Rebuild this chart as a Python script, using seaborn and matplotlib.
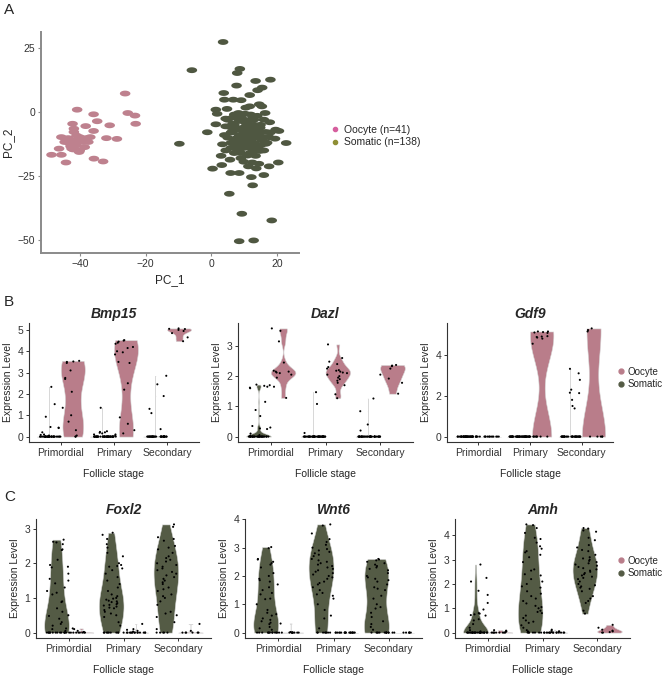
import numpy as np
import pandas as pd
import matplotlib
matplotlib.use('Agg')
import matplotlib.pyplot as plt
from matplotlib.path import Path
from matplotlib.lines import Line2D
import seaborn as sns

sns.set_theme(style='white')
plt.rcParams['font.family'] = ['Liberation Sans', 'DejaVu Sans']

# ---------------- data ----------------
# panel A, PCA coordinates
oocyte_pc1 = [-26.2, -40.8, -35.8, -25.4, -23.2, -34.7, -42.2, -38.2, -30.9, -23.0,
              -41.8, -35.8, -41.8, -31.9, -28.7, -45.6, -43.5, -40.0, -36.8, -39.2,
              -41.2, -44.6, -43.0, -37.4, -41.0, -38.5, -46.3, -42.5, -40.0, -42.0,
              -48.6, -45.6, -40.2, -35.7, -32.9, -44.2, -42.8, -38.9, -38.0, -44.0, -41.0]
oocyte_pc2 = [7.2, 0.9, -0.9, -0.4, -1.4, -3.6, -4.6, -5.5, -5.2, -4.6,
              -6.5, -7.4, -7.8, -10.2, -10.5, -9.8, -10.2, -9.8, -9.8, -11.1,
              -11.1, -11.7, -12.4, -11.7, -13.0, -13.7, -14.3, -14.3, -15.0, -14.6,
              -16.7, -16.7, -15.6, -18.2, -19.3, -19.7, -13.4, -11.7, -10.2, -11.0, -9.2]
somatic_pc1 = [3.6, -5.9, 8.7, 7.9, 13.5, 18.0, 7.7, 15.5, 14.1, 3.8,
               11.7, 6.7, 9.1, 4.0, 14.6, 11.7, 15.4, 10.5, 1.4, 4.8,
               1.8, 16.4, 8.3, 10.3, 6.5, 4.4, 12.5, 17.8, 8.5, 1.4,
               6.5, 10.5, 4.4, 12.5, 14.9, 19.6, 8.5, 10.5, -1.2, 6.3,
               12.5, 16.6, 20.6, 8.5, 10.5, 14.5, 17.6, 7.7, 12.5, 15.5,
               19.4, -9.7, 3.4, 22.8, 10.5, 16.6, 7.1, 11.5, 13.7, 4.4,
               8.5, 12.0, 14.7, 3.0, 11.1, 13.5, 5.7, 9.9, 12.5, 14.5,
               20.4, 3.2, 11.3, 17.6, 13.7, 0.4, 5.9, 8.5, 16.0, 12.2,
               12.6, 5.5, 9.3, 18.4, 8.5, 12.9,
               5, 7, 9, 11, 13, 15, 6, 8, 10, 12, 14, 16, 5, 7, 9, 11, 13, 15, 17, 6,
               8, 10, 12, 14, 16, 7, 9, 11, 13, 10, 12, 14, 8, 6, 4, 18, 9, 11, 13, 15,
               10, 12, 8, 10, 12, 7, 14, 16, 9, 11, 13, 6]
somatic_pc2 = [27.3, 16.3, 16.8, 15.2, 12.1, 12.6, 10.3, 9.5, 8.5, 7.4,
               6.6, 4.8, 4.6, 4.8, 3.0, 2.2, 2.2, 1.7, 0.9, 1.2,
               -0.7, -0.4, -0.4, -0.7, -2.2, -2.6, -2.6, -4.0, -3.5, -4.8,
               -4.6, -4.3, -5.6, -5.6, -6.1, -6.9, -6.4, -6.6, -7.9, -7.8,
               -7.8, -7.8, -7.4, -9.1, -9.1, -9.2, -9.8, -10.3, -10.3, -11.1,
               -10.4, -12.4, -12.6, -12.1, -11.5, -12.4, -13.7, -13.7, -13.4, -15.0,
               -15.2, -15.8, -15.2, -17.1, -16.5, -17.1, -18.6, -19.4, -19.7, -20.2,
               -19.7, -20.7, -21.2, -21.2, -22.0, -22.1, -23.8, -23.8, -24.6, -25.4,
               -28.6, -31.9, -39.7, -42.3, -50.4, -50.1,
               -3, -5, -2, -4, -3, -5, -8, -7, -8, -9, -7, -10, -10, -11, -12, -11, -12, -13, -12, -14,
               -13, -14, -13, -14, -15, -16, -16, -17, -15, -6, -6, -10, -10, -6, -9, -8, -9.5, -9.5, -8.5, -8,
               -11, -11.5, -15, -3, -1, -1, -1.5, -3, -18, -13, -5, -12]

# panels B and C, expression level per follicle stage and cell type
stages = ['Primordial', 'Primary', 'Secondary']
cell_types = ['Somatic', 'Oocyte']

expr = {
    'Bmp15': {
        ('Primordial', 'Somatic'): [2.33, 1.52, 0.93, 0.45, 0.42, 0.4, 0.2, 0.1, 0.08, 0.05] + [0.0] * 35,
        ('Primordial', 'Oocyte'): [3.55, 3.52, 3.5, 3.45, 3.1, 2.75, 2.7, 2.1, 1.35, 1.0, 0.7, 0.3, 0.05, 0.0, 0.0],
        ('Primary', 'Somatic'): [1.35, 0.25, 0.22, 0.2, 0.18, 0.15, 0.1] + [0.0] * 43,
        ('Primary', 'Oocyte'): [4.52, 4.5, 4.45, 4.4, 4.35, 4.2, 4.15, 4.0, 3.95, 3.85, 3.5,
                                3.45, 2.5, 2.2, 0.9, 0.6, 0.3, 0.15, 0.1, 0.05, 0.0],
        ('Secondary', 'Somatic'): [2.85, 2.45, 1.9, 1.3, 1.1, 0.35] + [0.0] * 37,
        ('Secondary', 'Oocyte'): [5.07, 5.05, 5.04, 5.0, 4.95, 4.85, 4.65, 4.47],
    },
    'Dazl': {
        ('Primordial', 'Somatic'): [1.72, 1.7, 1.68, 1.65, 1.62, 1.6, 1.15, 0.88, 0.68, 0.35,
                                    0.3, 0.27, 0.25, 0.1, 0.05, 0.03] + [0.0] * 29,
        ('Primordial', 'Oocyte'): [3.58, 3.5, 3.15, 2.45, 2.18, 2.15, 2.15, 2.12, 2.1, 2.05, 1.95, 1.65, 1.28],
        ('Primary', 'Somatic'): [1.47, 1.08, 0.12] + [0.0] * 47,
        ('Primary', 'Oocyte'): [3.05, 2.6, 2.48, 2.4, 2.3, 2.25, 2.2, 2.18, 2.15, 2.12,
                                2.1, 2.05, 2.0, 1.95, 1.9, 1.85, 1.78, 1.7, 1.4, 1.27],
        ('Secondary', 'Somatic'): [1.26, 0.84, 0.4, 0.2] + [0.0] * 39,
        ('Secondary', 'Oocyte'): [2.37, 2.35, 2.33, 2.25, 2.05, 1.92, 1.78, 1.42],
    },
    'Gdf9': {
        ('Primordial', 'Somatic'): [0.0] * 45,
        ('Primordial', 'Oocyte'): [0.0] * 13,
        ('Primary', 'Somatic'): [0.0] * 50,
        ('Primary', 'Oocyte'): [5.15, 5.15, 5.12, 5.1, 5.08, 4.92, 4.9, 4.88, 4.85, 4.8, 4.55] + [0.0] * 9,
        ('Secondary', 'Somatic'): [3.32, 3.1, 2.78, 2.3, 2.15, 2.13, 1.8, 1.5, 1.38] + [0.0] * 34,
        ('Secondary', 'Oocyte'): [5.3, 5.22, 5.15] + [0.0] * 5,
    },
    'Foxl2': {
        ('Primordial', 'Somatic'): [2.68, 2.62, 2.6, 2.55, 2.4, 2.38, 2.1, 1.95, 1.9, 1.88, 1.7,
                                    1.55, 1.5, 1.42, 1.3, 1.2, 1.15, 1.1, 0.9, 0.88, 0.7, 0.6,
                                    0.5, 0.48, 0.4, 0.3, 0.25, 0.2, 0.12, 0.1, 0.05] + [0.0] * 14,
        ('Primordial', 'Oocyte'): [0.12, 0.1, 0.05, 0.02] + [0.0] * 9,
        ('Primary', 'Somatic'): [2.88, 2.82, 2.7, 2.55, 2.45, 2.3, 2.2, 2.0, 1.95, 1.92, 1.9, 1.85,
                                 1.8, 1.7, 1.6, 1.5, 1.4, 1.3, 1.2, 1.1, 1.05, 1.0, 0.98, 0.95,
                                 0.92, 0.9, 0.88, 0.85, 0.82, 0.8, 0.78, 0.75, 0.72, 0.7, 0.65,
                                 0.6, 0.55, 0.5, 0.45, 0.3, 0.2] + [0.0] * 9,
        ('Primary', 'Oocyte'): [0.25, 0.1, 0.08, 0.05, 0.03] + [0.0] * 15,
        ('Secondary', 'Somatic'): [3.12, 3.05, 2.75, 2.7, 2.65, 2.5, 2.45, 2.4, 2.3, 2.2, 2.15, 2.1,
                                   2.05, 2.0, 1.95, 1.9, 1.85, 1.8, 1.75, 1.7, 1.65, 1.6, 1.55, 1.5,
                                   1.45, 1.4, 1.3, 1.25, 1.2, 1.1, 1.05, 1.0, 0.9, 0.8, 0.6, 0.55,
                                   0.5, 0.45, 0.3, 0.1] + [0.0] * 5,
        ('Secondary', 'Oocyte'): [0.25, 0.05] + [0.0] * 6,
    },
    'Wnt6': {
        ('Primordial', 'Somatic'): [3.02, 2.98, 2.6, 2.58, 2.5, 2.45, 2.4, 2.3, 2.1, 2.0, 1.9, 1.85,
                                    1.8, 1.7, 1.6, 1.5, 1.4, 1.35, 1.2, 1.18, 1.0, 0.8, 0.7, 0.65,
                                    0.6, 0.5, 0.45, 0.4, 0.35, 0.3, 0.2, 0.15, 0.1] + [0.0] * 12,
        ('Primordial', 'Oocyte'): [0.32, 0.02] + [0.0] * 11,
        ('Primary', 'Somatic'): [3.82, 3.78, 3.5, 3.3, 3.2, 3.1, 3.0, 2.95, 2.9, 2.85, 2.8, 2.75,
                                 2.7, 2.6, 2.55, 2.5, 2.45, 2.4, 2.35, 2.3, 2.25, 2.2, 2.15, 2.1,
                                 2.05, 2.0, 1.95, 1.9, 1.8, 1.75, 1.7, 1.6, 1.5, 1.4, 1.35, 1.3,
                                 1.2, 1.0, 0.8, 0.6, 0.5, 0.15] + [0.0] * 8,
        ('Primary', 'Oocyte'): [0.0] * 20,
        ('Secondary', 'Somatic'): [2.6, 2.58, 2.55, 2.5, 2.45, 2.4, 2.35, 2.3, 2.25, 2.2, 2.1, 2.0,
                                   1.95, 1.9, 1.85, 1.8, 1.7, 1.6, 1.55, 1.5, 1.3, 1.2, 1.0, 0.9,
                                   0.85, 0.7, 0.55, 0.4, 0.3, 0.2, 0.1] + [0.0] * 12,
        ('Secondary', 'Oocyte'): [0.0] * 8,
    },
    'Amh': {
        ('Primordial', 'Somatic'): [2.8, 2.25, 2.1, 1.72, 1.55, 1.22, 0.95, 0.8, 0.78, 0.75, 0.72,
                                    0.7, 0.55, 0.5, 0.35, 0.2, 0.1, 0.05] + [0.0] * 27,
        ('Primordial', 'Oocyte'): [0.1, 0.08, 0.05, 0.03] + [0.0] * 9,
        ('Primary', 'Somatic'): [4.45, 4.42, 4.3, 4.1, 3.9, 3.85, 3.7, 3.55, 3.45, 3.35, 3.3, 3.2,
                                 3.1, 2.9, 2.6, 2.55, 2.4, 2.35, 2.2, 2.1, 2.0, 1.9, 1.85, 1.7,
                                 1.6, 1.5, 1.4, 1.3, 1.2, 1.1, 1.05, 1.0, 0.9, 0.85, 0.8, 0.7,
                                 0.6, 0.5, 0.45, 0.4, 0.3, 0.2, 0.1, 0.05] + [0.0] * 7,
        ('Primary', 'Oocyte'): [0.12, 0.08, 0.05, 0.04, 0.02] + [0.0] * 15,
        ('Secondary', 'Somatic'): [4.3, 4.28, 4.2, 4.15, 3.9, 3.8, 3.6, 3.5, 3.4, 3.35, 3.2, 3.1,
                                   3.05, 3.0, 2.95, 2.9, 2.85, 2.8, 2.75, 2.7, 2.65, 2.6, 2.55, 2.5,
                                   2.45, 2.4, 2.35, 2.3, 2.25, 2.2, 2.1, 2.0, 1.95, 1.9, 1.85, 1.8,
                                   1.7, 1.5, 1.4, 1.3, 1.22, 0.9, 0.78],
        ('Secondary', 'Oocyte'): [0.32, 0.2, 0.12, 0.08, 0.05, 0.02, 0.0, 0.0],
    },
}
gene_yticks = {'Bmp15': [0, 1, 2, 3, 4, 5], 'Dazl': [0, 1, 2, 3], 'Gdf9': [0, 2, 4],
               'Foxl2': [0, 1, 2, 3], 'Wnt6': [0, 1, 2, 3, 4], 'Amh': [0, 1, 2, 3, 4]}

pca_colors = {'Oocyte': '#be818e', 'Somatic': '#4f5741'}
pca_legend_colors = {'Oocyte': '#d65f9e', 'Somatic': '#8f8f35'}
vln_colors = {'Oocyte': '#b97d8a', 'Somatic': '#545b45'}

rows = []
for gene, groups in expr.items():
    for (stage, cell), vals in groups.items():
        for v in vals:
            rows.append((gene, stage, cell, v))
expr_df = pd.DataFrame(rows, columns=['gene', 'stage', 'cell', 'value'])

pca_df = pd.concat([
    pd.DataFrame({'PC_1': oocyte_pc1, 'PC_2': oocyte_pc2, 'cell': 'Oocyte'}),
    pd.DataFrame({'PC_1': somatic_pc1, 'PC_2': somatic_pc2, 'cell': 'Somatic'}),
])


def nrd0(kde):
    # R's default bandwidth (bw.nrd0), as used by ggplot's geom_violin
    x = kde.dataset[0]
    sd = x.std(ddof=1)
    if sd == 0:
        return 1.0
    q75, q25 = np.percentile(x, [75, 25])
    lo = min(sd, (q75 - q25) / 1.349)
    if lo == 0:
        # tied zeros: Seurat's tiny noise leaves an almost-zero IQR
        lo = 1e-4 * sd
    return 0.9 * lo * len(x) ** -0.2 / sd


# ---------------- figure ----------------
W, H = 667, 677
fig = plt.figure(figsize=(W / 100, H / 100), dpi=100)


def px_axes(x0, x1, y0, y1):
    return fig.add_axes([x0 / W, 1 - y1 / H, (x1 - x0) / W, (y1 - y0) / H])


txt_col = '#333333'

# panel A
ax = px_axes(41, 299, 32, 253)
t = np.linspace(0, 2 * np.pi, 40)
ellipse = Path(np.column_stack([np.cos(t), 0.55 * np.sin(t)]), closed=True)
sns.scatterplot(data=pca_df, x='PC_1', y='PC_2', hue='cell', palette=pca_colors,
                marker=ellipse, s=58, linewidth=0, legend=False, ax=ax)
ax.set_xlim(-51.8, 26.7)
ax.set_ylim(-55, 31.2)
ax.set_xticks([-40, -20, 0, 20])
ax.set_yticks([25, 0, -25, -50])
sns.despine(ax=ax)
for s in ['left', 'bottom']:
    ax.spines[s].set_color('#8a8a8a')
    ax.spines[s].set_linewidth(1.4)
ax.tick_params(axis='both', length=2.5, width=0.8, color='#8a8a8a', pad=1.5,
               labelsize=7.5, labelcolor=txt_col, bottom=True, left=True)
ax.set_xlabel('PC_1', fontsize=8.5, labelpad=4)
ax.set_ylabel('PC_2', fontsize=8.5, labelpad=3)
handles = [Line2D([], [], marker='o', ls='', color=pca_legend_colors[c], markersize=3) for c in ['Oocyte', 'Somatic']]
fig.legend(handles, ['Oocyte (n=41)', 'Somatic (n=138)'], loc='center left',
           bbox_to_anchor=(330 / W, 1 - 136 / H), frameon=False, fontsize=7.5,
           handletextpad=0.3, labelspacing=0.25, handlelength=1.0,
           borderpad=0, borderaxespad=0)


def violin_panel(box, gene, bw_adjust=1.0):
    ax = px_axes(*box)
    df = expr_df[expr_df.gene == gene]
    sns.violinplot(data=df, x='stage', y='value', hue='cell', order=stages, hue_order=cell_types,
                   palette=vln_colors, density_norm='width', cut=0, inner=None, width=0.9,
                   bw_method=nrd0, bw_adjust=bw_adjust, linewidth=0.4, linecolor='#d8d8d8',
                   saturation=1, legend=False, ax=ax)
    sns.stripplot(data=df, x='stage', y='value', hue='cell', order=stages, hue_order=cell_types,
                  palette={'Somatic': 'black', 'Oocyte': 'black'}, dodge=True, jitter=0.4,
                  size=1.5, linewidth=0, legend=False, ax=ax)
    lo, hi = df.value.min(), df.value.max()
    pad = 0.05 * (hi - lo)
    ax.set_ylim(lo - pad, hi + pad)
    ax.set_xlim(-0.6, 2.6)
    ax.set_yticks(gene_yticks[gene])
    sns.despine(ax=ax)
    for s in ['left', 'bottom']:
        ax.spines[s].set_color('#333333')
        ax.spines[s].set_linewidth(0.8)
    ax.tick_params(axis='both', length=2.5, width=0.7, color='#333333', pad=1.5,
                   labelsize=7.5, labelcolor=txt_col, bottom=True, left=True)
    ax.set_title(gene, fontsize=10, fontweight='bold', fontstyle='italic', pad=3.5)
    ax.set_xlabel('Follicle stage', fontsize=7.5, labelpad=8)
    ax.set_ylabel('Expression Level', fontsize=7.5, labelpad=3)
    return ax


np.random.seed(3)
violin_panel((29, 199, 323, 442), 'Bmp15')
violin_panel((238, 413, 323, 442), 'Dazl')
violin_panel((447, 613, 323, 442), 'Gdf9')
violin_panel((36, 211, 519, 638), 'Foxl2', 1.35)
violin_panel((245, 422, 519, 638), 'Wnt6', 1.35)
violin_panel((455, 630, 519, 638), 'Amh', 1.35)

for yc in [378, 567]:
    handles = [Line2D([], [], marker='o', ls='', color=vln_colors[c], markersize=3.5) for c in ['Oocyte', 'Somatic']]
    fig.legend(handles, ['Oocyte', 'Somatic'], loc='center left',
               bbox_to_anchor=(618 / W, 1 - yc / H), frameon=False, fontsize=7,
               handletextpad=0.25, labelspacing=0.3, handlelength=0.7,
               borderpad=0, borderaxespad=0)

for letter, y in [('A', 10), ('B', 302), ('C', 497)]:
    fig.text(4 / W, 1 - y / H, letter, fontsize=11, va='center', ha='left')

fig.savefig('out.png', dpi=100)
